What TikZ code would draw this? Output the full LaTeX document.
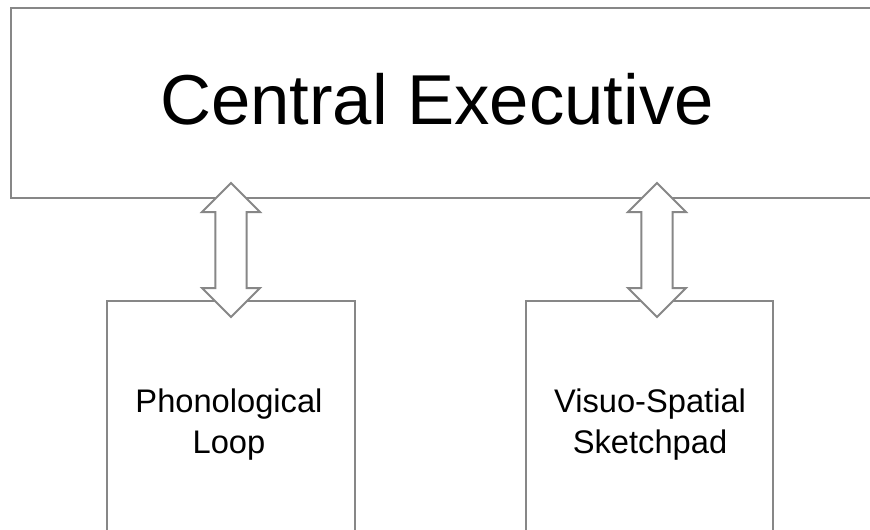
\documentclass[tikz,border=0pt]{standalone}
\usepackage{fontspec}
\setmainfont{Liberation Sans}
\usetikzlibrary{shapes.arrows}

\definecolor{edgegray}{RGB}{135,135,135}

\tikzset{every picture/.style={line width=1.5pt}}
\tikzset{
  store/.style={draw=edgegray, inner sep=0pt},
  link/.style={double arrow, draw=edgegray, fill=white, rotate=90,
    inner xsep=0pt, inner ysep=10.9pt,
    minimum height=100.5pt, minimum width=42pt,
    double arrow head extend=10.1pt, double arrow head indent=0pt},
  storetext/.style={align=center, inner sep=0pt, font=\fontsize{24.5}{30.75}\selectfont}
}

\begin{document}
\begin{tikzpicture}[x=0.75pt,y=0.75pt,yscale=-1,xscale=1]
    \useasboundingbox (0,0) rectangle (870,529);
    \clip (0,0) rectangle (870,529);

    % Boxes
    \node [store, minimum width=659.25pt, minimum height=142.5pt] (exec) at (450.5,103) {};
    \node [store, minimum width=186pt, minimum height=224.25pt] (loop) at (231,450.5) {};
    \node [store, minimum width=185.25pt, minimum height=224.25pt] (pad) at (649.5,450.5) {};

    % Double arrows
    \node [link] (execloop) at (231,250) {};
    \node [link] (execpad) at (657,250) {};

    % Text Node
    \node [inner sep=0pt, font=\fontsize{53}{64}\selectfont] (execlabel) at (437,99) {Central Executive};
    % Text Node
    \node [storetext] (looplabel) at (229,425) {Phonological\\Loop};
    % Text Node
    \node [storetext] (padlabel) at (650,425) {Visuo-Spatial\\Sketchpad};
\end{tikzpicture}
\end{document}
